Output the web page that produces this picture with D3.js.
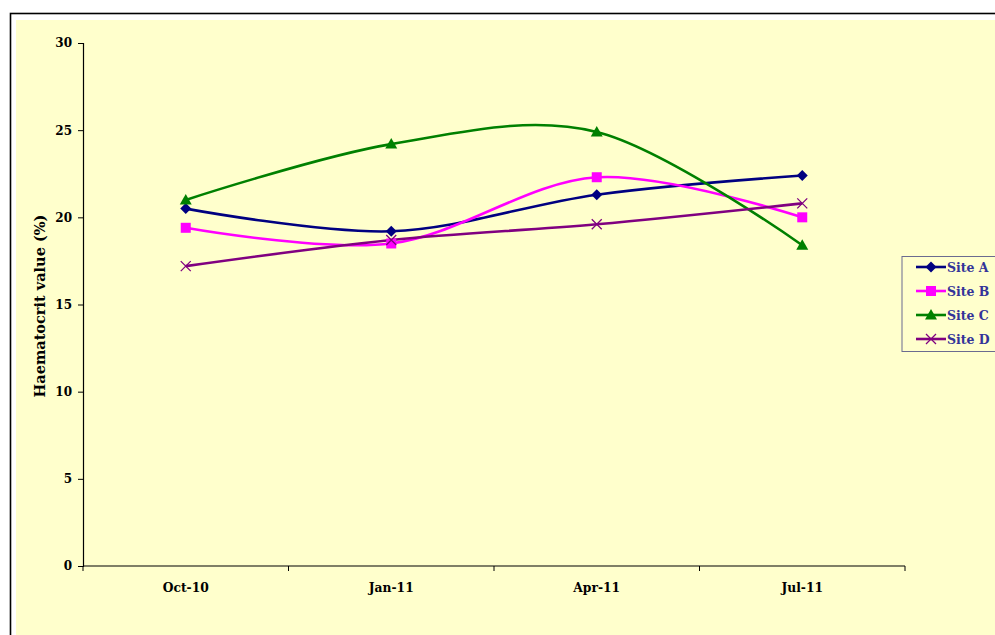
<!DOCTYPE html>
<html>
<head>
<meta charset="utf-8">
<script src="https://cdn.jsdelivr.net/npm/d3@7"></script>
<style>
  html, body { margin: 0; padding: 0; background: #ffffff; }
  svg { display: block; }
  text { font-family: "DejaVu Serif", "Liberation Serif", serif; font-weight: bold; }
</style>
</head>
<body>
<svg id="chart" width="995" height="635"></svg>
<script>
// Sampling months
const categories = ["Oct-10", "Jan-11", "Apr-11", "Jul-11"];

// Haematocrit (%) per site
const siteA = [20.5, 19.2, 21.3, 22.4];
const siteB = [19.4, 18.5, 22.3, 20.0];
const siteC = [21.0, 24.2, 24.9, 18.4];
const siteD = [17.2, 18.7, 19.6, 20.8];

const seriesNames = ["Site A", "Site B", "Site C", "Site D"];
const yTicks = [0, 5, 10, 15, 20, 25, 30];

const series = [
  { name: seriesNames[0], values: siteA, color: "#000080", marker: "diamond" },
  { name: seriesNames[1], values: siteB, color: "#FF00FF", marker: "square" },
  { name: seriesNames[2], values: siteC, color: "#008000", marker: "triangle" },
  { name: seriesNames[3], values: siteD, color: "#800080", marker: "cross" }
];

const svg = d3.select("#chart");

// Outer frame and plot background
svg.append("rect").attr("x", 10.5).attr("y", 13.5).attr("width", 1000).attr("height", 700)
  .attr("fill", "#ffffff").attr("stroke", "#000000").attr("stroke-width", 1.6);
svg.append("rect").attr("x", 16).attr("y", 20).attr("width", 990).attr("height", 700)
  .attr("fill", "#FFFFCC");

const plot = { left: 83, right: 905, top: 43, bottom: 566 };

const x = d3.scaleBand().domain(categories).range([plot.left, plot.right]).paddingInner(0).paddingOuter(0);
const y = d3.scaleLinear().domain([0, 30]).range([plot.bottom, plot.top]);

// Y axis
const yAxis = svg.append("g").attr("transform", `translate(${plot.left},0)`)
  .call(d3.axisLeft(y).tickValues(yTicks).tickSize(5).tickPadding(6));
yAxis.select(".domain").attr("stroke", "#000").attr("stroke-width", 1.2);
yAxis.selectAll(".tick line").attr("stroke", "#000").attr("stroke-width", 1);
yAxis.selectAll(".tick text").attr("font-size", 12).attr("fill", "#000")
  .attr("font-family", "\"DejaVu Serif\", serif").attr("font-weight", "bold");

// X axis with ticks on category boundaries
const xAxisG = svg.append("g").attr("transform", `translate(0,${plot.bottom})`);
xAxisG.append("line").attr("x1", plot.left).attr("x2", plot.right)
  .attr("stroke", "#000").attr("stroke-width", 1.2);
const boundaries = categories.map(c => x(c)).concat([x(categories[categories.length - 1]) + x.bandwidth()]);
xAxisG.selectAll("line.tk").data(boundaries).join("line").attr("class", "tk")
  .attr("x1", d => d).attr("x2", d => d).attr("y1", 0).attr("y2", 5)
  .attr("stroke", "#000").attr("stroke-width", 1);
xAxisG.selectAll("text").data(categories).join("text")
  .attr("x", d => x(d) + x.bandwidth() / 2).attr("y", 26)
  .attr("text-anchor", "middle").attr("font-size", 12.3).attr("fill", "#000")
  .text(d => d);

// Y axis title
svg.append("text")
  .attr("transform", `translate(45,306) rotate(-90)`)
  .attr("text-anchor", "middle").attr("font-size", 14.5).attr("fill", "#000")
  .text("Haematocrit value (%)");

const cx = c => x(c) + x.bandwidth() / 2;

const line = d3.line()
  .x((d, i) => cx(categories[i]))
  .y(d => y(d))
  .curve(d3.curveCardinal.tension(0));

function drawMarker(g, type, px, py, color) {
  if (type === "diamond") {
    g.append("path").attr("d", `M${px},${py - 5.5}L${px + 5.5},${py}L${px},${py + 5.5}L${px - 5.5},${py}Z`)
      .attr("fill", color);
  } else if (type === "square") {
    g.append("rect").attr("x", px - 5).attr("y", py - 5).attr("width", 10).attr("height", 10)
      .attr("fill", color);
  } else if (type === "triangle") {
    g.append("path").attr("d", `M${px},${py - 6}L${px + 6},${py + 4.5}L${px - 6},${py + 4.5}Z`)
      .attr("fill", color);
  } else if (type === "cross") {
    g.append("path").attr("d", `M${px - 5},${py - 5}L${px + 5},${py + 5}M${px - 5},${py + 5}L${px + 5},${py - 5}`)
      .attr("stroke", color).attr("stroke-width", 1.3).attr("fill", "none");
  }
}

// Lines
series.forEach(s => {
  svg.append("path").datum(s.values).attr("d", line)
    .attr("fill", "none").attr("stroke", s.color).attr("stroke-width", 2.6);
});

// Markers
series.forEach(s => {
  const g = svg.append("g");
  s.values.forEach((v, i) => drawMarker(g, s.marker, cx(categories[i]), y(v), s.color));
});

// Legend
const legend = svg.append("g");
legend.append("rect").attr("x", 902).attr("y", 256.5).attr("width", 120).attr("height", 95)
  .attr("fill", "#FFFFCC").attr("stroke", "#6b6b8f").attr("stroke-width", 1);
series.forEach((s, i) => {
  const ly = 267 + i * 24;
  legend.append("line").attr("x1", 916).attr("x2", 946).attr("y1", ly).attr("y2", ly)
    .attr("stroke", s.color).attr("stroke-width", 2.6);
  drawMarker(legend, s.marker, 931, ly, s.color);
  legend.append("text").attr("x", 947).attr("y", ly + 4.5).attr("font-size", 12.5)
    .attr("fill", "#333399").text(s.name);
});
</script>
</body>
</html>
